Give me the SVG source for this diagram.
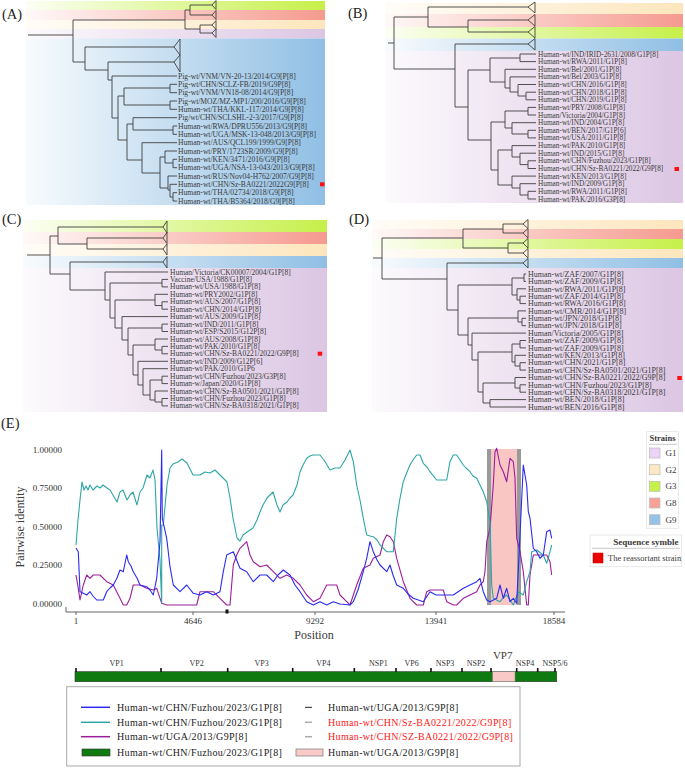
<svg xmlns="http://www.w3.org/2000/svg" width="685" height="768" viewBox="0 0 685 768">
<defs>
<linearGradient id="gG"><stop offset="0" stop-color="#c6f04a" stop-opacity="0.06"/><stop offset="1" stop-color="#c6f04a"/></linearGradient>
<linearGradient id="gR"><stop offset="0" stop-color="#f59a8f" stop-opacity="0.06"/><stop offset="1" stop-color="#f59a8f"/></linearGradient>
<linearGradient id="gY"><stop offset="0" stop-color="#fde6bd" stop-opacity="0.1"/><stop offset="1" stop-color="#fde6bd"/></linearGradient>
<linearGradient id="gP"><stop offset="0" stop-color="#dcc6e3" stop-opacity="0.08"/><stop offset="1" stop-color="#dcc6e3"/></linearGradient>
<linearGradient id="gB"><stop offset="0" stop-color="#90bfe4" stop-opacity="0.06"/><stop offset="1" stop-color="#90bfe4"/></linearGradient>
<style>
.t{font-family:"Liberation Serif","Times New Roman",serif;fill:#3a3a3a}
.br{fill:none;stroke:#404040;stroke-width:0.9}
.tri{fill:none;stroke:#404040;stroke-width:0.9}
.pl{font-family:"Liberation Serif","Times New Roman",serif;font-size:14.5px;fill:#222}
.rs{fill:#ff1010}
.ax{font-family:"Liberation Serif","Times New Roman",serif;font-size:9px;fill:#333}
.cv{fill:none;stroke-width:1.1;stroke-linejoin:round}
.lg{font-family:"Liberation Serif","Times New Roman",serif;font-size:10px;letter-spacing:0.35px;fill:#222}
.gl{font-family:"Liberation Serif","Times New Roman",serif;font-size:8px;fill:#333;text-anchor:middle}
</style>
</defs>
<rect width="685" height="768" fill="#fff"/>

<!-- Panel A -->
<g id="panelA">
<rect x="26" y="1" width="299" height="9" fill="url(#gG)"/>
<rect x="26" y="10" width="299" height="10" fill="url(#gR)"/>
<rect x="26" y="20" width="299" height="9" fill="url(#gY)"/>
<rect x="26" y="29" width="299" height="9.5" fill="url(#gP)"/>
<rect x="26" y="38.5" width="299" height="166.5" fill="url(#gB)"/>
<text class="pl" x="2" y="19">(A)</text>
<path class="br" d="M28,35H73M73,20V62M73,20H185M185,10V29M185,10H190M190,5V15M190,5H212M190,15H212M185,29H200M200,25V33M200,25H212M200,33H212
M73,62H85M85,47V70M85,47H174M85,70H108M108,62V80M108,62H174M108,80H112
M112,76V118M112,76H177M112,118H118M118,96V140M118,96H124M118,140H127M124,88V105M124,88H170M124,105H170
M170,84.3V92.7M170,84.3H177M170,92.7H177M170,101V109.3M170,101H177M170,109.3H177
M127,124V160M127,124H133M127,160H142M133,117.7V130M133,117.7H177M133,130H173M173,126V134.3M173,126H177M173,134.3H177
M142,142.7V173M142,142.7H177M142,173H160M160,157V188M160,157H165M160,188H168
M165,151V163M165,151H177M165,163H173M173,159.3V167.7M173,159.3H177M173,167.7H177
M168,176V190M168,176H177M168,190H170M170,184.3V197M170,184.3H177M170,197H173M173,192.7V201M173,192.7H177M173,201H177"/>
<path class="tri" d="M212,5L216,0.5V9.5ZM212,15L216,10.5V19.5ZM212,25L216,20.5V29.5ZM212,33L216,29V37.5ZM174,47L180,39V55ZM174,62L180,55V72Z"/>
<text class="t" font-size="7.6px"><tspan x="178" y="78.6">Pig-wt/VNM/VN-20-13/2014/G9[P[8]</tspan><tspan x="178" y="86.9">Pig-wt/CHN/SCLZ-FB/2019/G9P[8]</tspan><tspan x="178" y="95.3">Pig-wt/VNM/VN18-08/2014/G9[P[8]</tspan><tspan x="178" y="103.6">Pig-wt/MOZ/MZ-MP1/200/2016/G9[P[8]</tspan><tspan x="178" y="111.9">Human-wt/THA/KKL-117/2014/G9[P[8]</tspan><tspan x="178" y="120.3">Pig/wt/CHN/SCLSHL-2-3/2017/G9[P[8]</tspan><tspan x="178" y="128.6">Human-wt/RWA/DPRU556/2013/G9[P[8]</tspan><tspan x="178" y="136.9">Human-wt/UGA/MSK-13-048/2013/G9[P[8]</tspan><tspan x="178" y="145.3">Human-wt/AUS/QCL199/1999/G9[P[8]</tspan><tspan x="178" y="153.6">Human-wt/PRY/1723SR/2009/G9[P[8]</tspan><tspan x="178" y="161.9">Human-wt/KEN/3471/2016/G9[P[8]</tspan><tspan x="178" y="170.3">Human-wt/UGA/NSA-13-043/2013/G9[P[8]</tspan><tspan x="178" y="178.6">Human-wt/RUS/Nov04-H762/2007/G9[P[8]</tspan><tspan x="178" y="186.9">Human-wt/CHN/Sz-BA0221/2022G9[P[8]</tspan><tspan x="178" y="195.3">Human-wt/THA/02734/2018/G9[P[8]</tspan><tspan x="178" y="203.6">Human-wt/THA/B5364/2018/G9[P[8]</tspan></text>
<rect class="rs" x="320" y="182.3" width="4.5" height="4"/>
</g>

<!-- Panel B -->
<g id="panelB">
<rect x="385" y="3" width="298" height="11" fill="url(#gY)"/>
<rect x="385" y="14" width="298" height="13" fill="url(#gR)"/>
<rect x="385" y="27" width="298" height="11.5" fill="url(#gG)"/>
<rect x="385" y="38.5" width="298" height="12.5" fill="url(#gB)"/>
<rect x="385" y="51" width="298" height="152" fill="url(#gP)"/>
<text class="pl" x="348" y="18">(B)</text>
<path class="br" d="M388,43H394M394,17V69M394,17H428M428,7V27M428,7H528M428,27H468M468,20V32M468,20H528M468,32H528
M394,69H455M455,44V107M455,44H528M455,107H468M468,70V140
M468,70H490M490,58V82M490,58H520M520,54V61.6M520,54H536M520,61.6H536M490,82H505
M505,69.3V88M505,69.3H536M505,88H510M510,76.9V92M510,76.9H536M510,92H518M518,84.5V96M518,84.5H536M518,96H526M526,92.2V99.8M526,92.2H536M526,99.8H536
M468,140H491M491,122V170M491,122H505M491,170H498
M505,111V128M505,111H528M528,107.4V115M528,107.4H536M528,115H536M505,128H512M512,122.7V134M512,122.7H536M512,134H528M528,130.3V137.9M528,130.3H536M528,137.9H536
M498,150V185M498,150H512M498,185H512M512,145.6V157M512,145.6H536M512,157H520M520,153.2V164.6M520,153.2H536M520,164.6H528M528,160.8V168.5M528,160.8H536M528,168.5H536
M512,176.1V188M512,176.1H536M512,188H520M520,183.7V195M520,183.7H536M520,195H528M528,191.3V199M528,191.3H536M528,199H536"/>
<path class="tri" d="M528,7L535,2V13ZM528,20L535,14.5V26ZM528,32L535,26.5V38ZM528,44L535,38.5V50Z"/>
<text class="t" font-size="7.3px"><tspan x="538" y="56.5">Human-wt/IND/IRID-2631/2008/G1P[8]</tspan><tspan x="538" y="64.1">Human-wt/RWA/2011/G1P[8]</tspan><tspan x="538" y="71.8">Human-wt/Bel/2001/G1P[8]</tspan><tspan x="538" y="79.4">Human-wt/Bel/2003/G1P[8]</tspan><tspan x="538" y="87">Human-wt/CHN/2016/G1P[8]</tspan><tspan x="538" y="94.7">Human-wt/CHN/2018/G1P[8]</tspan><tspan x="538" y="102.3">Human-wt/CHN/2019/G1P[8]</tspan><tspan x="538" y="109.9">Human-wt/PRY/2008/G1P[8]</tspan><tspan x="538" y="117.5">Human/Victoria/2004/G1P[8]</tspan><tspan x="538" y="125.2">Human-wt/IND/2004/G1P[8]</tspan><tspan x="538" y="132.8">Human-wt/BEN/2017/G1P[6]</tspan><tspan x="538" y="140.4">Human-wt/USA/2011/G1P[8]</tspan><tspan x="538" y="148.1">Human-wt/PAK/2010/G1P[8]</tspan><tspan x="538" y="155.7">Human-wt/IND/2015/G1P[8]</tspan><tspan x="538" y="163.3">Human-wt/CHN/Fuzhou/2023/G1P[8]</tspan><tspan x="538" y="171">Human-wt/CHN/Sz-BA0221/2022/G9P[8]</tspan><tspan x="538" y="178.6">Human-wt/KEN/2013/G1P[8]</tspan><tspan x="538" y="186.2">Human-wt/IND/2009/G1P[8]</tspan><tspan x="538" y="193.8">Human-wt/RWA/2011/G1P[8]</tspan><tspan x="538" y="201.5">Human-wt/PAK/2016/G3P[8]</tspan></text>
<rect class="rs" x="674.5" y="167" width="4.5" height="4"/>
</g>

<!-- Panel C -->
<g id="panelC">
<rect x="23" y="220" width="304" height="12" fill="url(#gG)"/>
<rect x="23" y="232" width="304" height="12" fill="url(#gR)"/>
<rect x="23" y="244" width="304" height="12" fill="url(#gY)"/>
<rect x="23" y="256" width="304" height="12" fill="url(#gB)"/>
<rect x="23" y="268" width="304" height="144" fill="url(#gP)"/>
<text class="pl" x="2" y="224">(C)</text>
<path class="br" d="M27,255H50M50,236V274M50,236H58M58,227V244M58,227H163M58,244H87M87,238V249M87,238H163M87,249H163
M50,274H70M70,262V290M70,262H163M70,290H105
M105,272V300M105,272H168M105,300H110M110,283V318M110,283H162M162,279.4V286.9M162,279.4H168M162,286.9H168M110,318H115
M115,300V328M115,300H155M115,328H122M155,294.3V305.5M155,294.3H168M155,305.5H162M162,301.8V309.2M162,301.8H168M162,309.2H168
M122,316.6V340M122,316.6H168M122,340H128M128,328V355M128,328H162M162,324.1V331.5M162,324.1H168M162,331.5H168M128,355H133
M133,345V375M133,345H155M133,375H138M155,339V350M155,339H168M155,350H162M162,346.4V353.8M162,346.4H168M162,353.8H168
M138,361.3V385M138,361.3H168M138,385H143M143,368.7V395M143,368.7H168M143,395H150
M150,380V400M150,380H162M162,376.2V383.6M162,376.2H168M162,383.6H168M150,400H155
M155,391V402M155,391H168M155,402H162M162,398.5V405.9M162,398.5H168M162,405.9H168"/>
<path class="tri" d="M163,227L167,221V233ZM163,238L167,232.5V243.5ZM163,249L167,244V255ZM163,262L167,256.5V268Z"/>
<text class="t" font-size="7.5px"><tspan x="170" y="274.5">Human/Victoria/CK00007/2004/G1P[8]</tspan><tspan x="170" y="281.9">Vaccine/USA/1988/G1P[8]</tspan><tspan x="170" y="289.4">Human-wt/USA/1988/G1P[8]</tspan><tspan x="170" y="296.8">Human-wt/PRY2002/G1P[8]</tspan><tspan x="170" y="304.3">Human-wt/AUS/2007/G1P[8]</tspan><tspan x="170" y="311.7">Human-wt/CHN/2014/G1P[8]</tspan><tspan x="170" y="319.1">Human-wt/AUS/2009/G1P[8]</tspan><tspan x="170" y="326.6">Human-wt/IND/2011/G1P[8]</tspan><tspan x="170" y="334">Human-wt/ESP/S2015/G12P[8]</tspan><tspan x="170" y="341.5">Human-wt/AUS/2008/G1P[8]</tspan><tspan x="170" y="348.9">Human-wt/PAK/2010/G1P[8]</tspan><tspan x="170" y="356.3">Human-wt/CHN/Sz-BA0221/2022/G9P[8]</tspan><tspan x="170" y="363.8">Human-wt/IND/2009/G12P[6]</tspan><tspan x="170" y="371.2">Human-wt/PAK/2010/G1P6</tspan><tspan x="170" y="378.7">Human-wt/CHN/Fuzhou/2023/G3P[8]</tspan><tspan x="170" y="386.1">Human-w/Japan/2020/G1P[8]</tspan><tspan x="170" y="393.5">Human-wt/CHN/Sz-BA0501/2021/G1P[8]</tspan><tspan x="170" y="401">Human-wt/CHN/Fuzhou/2023/G1P[8]</tspan><tspan x="170" y="408.4">Human-wt/CHN/Sz-BA0318/2021/G1P[8]</tspan></text>
<rect class="rs" x="317.7" y="351.7" width="4.5" height="4"/>
</g>

<!-- Panel D -->
<g id="panelD">
<rect x="372" y="220" width="311" height="9" fill="url(#gY)"/>
<rect x="372" y="229" width="311" height="10" fill="url(#gR)"/>
<rect x="372" y="239" width="311" height="10" fill="url(#gG)"/>
<rect x="372" y="249" width="311" height="9" fill="url(#gY)"/>
<rect x="372" y="258" width="311" height="10" fill="url(#gB)"/>
<rect x="372" y="268" width="311" height="144" fill="url(#gP)"/>
<text class="pl" x="349" y="224">(D)</text>
<path class="br" d="M373,258H382M382,238V279M382,238H463M463,229V248M463,229H503M503,224V233M503,224H523M503,233H523M463,248H508M508,243V253M508,243H523M508,253H523
M382,279H447M447,263H523M447,263V310M447,310H458
M458,285V335M458,285H512M458,335H468M512,278V295M512,278H524M524,274V281.4M524,274H526M524,281.4H526M512,295H517M517,288.8V300M517,288.8H526M517,300H520M520,296.2V303.6M520,296.2H526M520,303.6H526
M468,318V345M468,318H518M468,345H472M518,310.9V322M518,310.9H526M518,322H522M522,318.3V325.7M522,318.3H526M522,325.7H526
M472,333.1V360M472,333.1H526M472,360H478M478,352V392M478,352H512M478,392H483
M512,344V362M512,344H520M520,340.5V347.9M520,340.5H526M520,347.9H526M512,362H515M515,355.3V366M515,355.3H526M515,366H520M520,362.7V370.1M520,362.7H526M520,370.1H526
M483,383V403M483,383H515M483,403H490M515,377.5V388M515,377.5H526M515,388H520M520,384.8V392.2M520,384.8H526M520,392.2H526M490,399.6V407M490,399.6H526M490,407H526"/>
<path class="tri" d="M523,224L528,219.5V228.5ZM523,233L528,228.5V238ZM523,243L528,238.5V248ZM523,253L528,248.5V258ZM523,263L528,258.5V268Z"/>
<text class="t" font-size="8px"><tspan x="528" y="276.7">Human-wt/ZAF/2007/G1P[8]</tspan><tspan x="528" y="284.1">Human-wt/ZAF/2009/G1P[8]</tspan><tspan x="528" y="291.5">Human-wt/RWA/2011/G1P[8]</tspan><tspan x="528" y="298.9">Human-wt/ZAF/2014/G1P[8]</tspan><tspan x="528" y="306.3">Human-wt/RWA/2016/G1P[8]</tspan><tspan x="528" y="313.7">Human-wt/CMR/2014/G1P[8]</tspan><tspan x="528" y="321">Human-wt/JPN/2018/G1P[8]</tspan><tspan x="528" y="328.4">Human-wt/JPN/2018/G1P[8]</tspan><tspan x="528" y="335.8">Human/Victoria/2005/G1P[8]</tspan><tspan x="528" y="343.2">Human-wt/ZAF/2009/G1P[8]</tspan><tspan x="528" y="350.6">Human-wt/ZAF/2009/G1P[8]</tspan><tspan x="528" y="358">Human-wt/KEN/2013/G1P[8]</tspan><tspan x="528" y="365.4">Human-wt/CHN/2021/G1P[8]</tspan><tspan x="528" y="372.8">Human-wt/CHN/Sz-BA0501/2021/G1P[8]</tspan><tspan x="528" y="380.2">Human-wt/CHN/Sz-BA0221/2022/G9P[8]</tspan><tspan x="528" y="387.6">Human-wt/CHN/Fuzhou/2023/G1P[8]</tspan><tspan x="528" y="394.9">Human-wt/CHN/Sz-BA0318/2021/G1P[8]</tspan><tspan x="528" y="402.3">Human-wt/BEN/2018/G1P[8]</tspan><tspan x="528" y="409.7">Human-wt/BEN/2016/G1P[8]</tspan></text>
<rect class="rs" x="677.3" y="376" width="4.5" height="4"/>
</g>

<!-- Panel E -->
<g id="panelE">
<text class="pl" x="1" y="428" font-size="15px">(E)</text>
<rect x="487" y="449" width="4.5" height="156" fill="#9a9a9a"/>
<rect x="491.5" y="449" width="25.5" height="156" fill="#f9c6c4"/>
<rect x="517" y="449" width="4" height="156" fill="#9a9a9a"/>
<g id="axes">
<path d="M66,612H565M66,607V612M76,612V615M193,612V615M315,612V615M436,612V615M554,612V615" fill="none" stroke="#555" stroke-width="0.9"/>
<rect x="225.5" y="609.5" width="3" height="4" fill="#111"/>
<text class="ax" text-anchor="end"><tspan x="62" y="453">1.00000</tspan><tspan x="62" y="491">0.75000</tspan><tspan x="62" y="530">0.50000</tspan><tspan x="62" y="568">0.25000</tspan><tspan x="62" y="607">0.00000</tspan></text>
<text class="ax" text-anchor="middle"><tspan x="76" y="623.5">1</tspan><tspan x="193" y="623.5">4646</tspan><tspan x="315" y="623.5">9292</tspan><tspan x="436" y="623.5">13941</tspan><tspan x="554" y="623.5">18584</tspan></text>
<text class="t" font-size="12px" x="314" y="638.5" text-anchor="middle" fill="#222">Position</text>
<text class="t" font-size="12px" transform="translate(24,527) rotate(-90)" text-anchor="middle" fill="#222">Pairwise identity</text>
</g>
<g id="curves">
<polyline class="cv" stroke="#9b1f9b" points="76,575 78.3,588.3 80,600 83.3,585 86.7,575 90,578.3 93.3,575 100,575 106.7,581.7 113.3,585 116.7,591.7 120,598.3 123.3,605 126.7,605 130,598.3 133.3,585 140,585 146.7,588.3 153.3,590 156.7,588.3 161.7,603.3 166.7,605 196.7,605 200,591.7 213.3,591.7 220,598.3 226.7,605 230,605 233.3,565 236.7,555 240,548.3 246.7,541.7 250,555 253.3,561.7 260,566.7 266.7,565 273.3,571.7 280,578.3 286.7,575 293.3,578.3 300,585 306.7,595 313.3,601.7 320,598.3 326.7,585 336.7,585 340,595 346.7,601.7 350,605 356.7,585 363.3,568.3 370,565 373.3,558.3 380,555 383.3,541.7 386.7,535 390,536.7 393.3,541.7 396.7,558.3 403.3,581.7 410,598.3 416.7,605 423.3,605 426.7,591.7 430,590 443.3,590 446.7,601.7 453.3,605 456.7,605 463.3,598.3 470,595 476.7,591.7 480,585 483.3,581.7 485,571.7 486.7,541.7 490,528.3 493.3,485 495,451.7 496.7,448.3 500,465 503.3,471.7 506.7,481.7 510,458.3 513.3,461.7 515,478.3 516.7,538.3 520,551.7 523.3,571.7 526.7,605 528.3,605 530,575 533.3,555 543.3,555 546.7,555 550,561.7 551.7,575"/>
<polyline class="cv" stroke="#2ea6a6" points="76,545 78,520 80,500 82,482 84,490 86,486 88,490 90,485 93,490 97,486 100,488 103,485 107,488 110,490 113,495 117,502 120,492 123,490 127,500 130,495 133,492 137,505 140,492 143,488 147,475 150,478 153,470 155,480 157,528 160,560 161.7,603 161.7,525 163.3,525 167,485 170,468 173,464 178,462 182,459 187,463 193,475 200,475 205,472 210,473 215,470 220,475 227,482 230,498 233,518 237,538 240,541 243,535 247,532 250,530 253,528 257,520 260,512 263,505 267,498 270,495 273,492 277,505 280,512 283,505 287,502 290,498 293,495 297,485 300,472 303,465 307,458 310,456 313,455 320,455 324,460 327,465 330,470 335,468 340,468 345,460 350,450 353.3,461.7 356.7,485 360,500 363.3,518.3 366.7,535 370,536 373.3,536.7 377,540 380,545 383,548 386.7,551.7 393.3,551.7 396.7,518.3 400,498.3 403.3,481.7 407,472 410,465 413,460 416.7,455 420,455 423.3,463.3 427,467 430,471.7 436.7,480 446.7,480 450,461.7 453.3,455 456.7,455 460,460 463.3,465 466,468 470,471.7 473,476 476.7,478.3 480,485 483.3,491.7 486.7,501.7 490,521.7 491.7,585 493.3,598.3 500,601.7 503,598 506.7,595 510,600 513.3,605 518.3,591.7 523.3,595 526.7,581.7 530,571.7 531.7,551.7 536.7,550 543.3,555 546.7,563.3 550,551.7 551.7,545"/>
<polyline class="cv" stroke="#2b2bf0" points="76,548 78.3,551.7 80,591.7 83.3,593.3 86.7,595 90,591.7 93,596 96.7,600 103.3,600 106.7,591.7 110,588 113.3,585 117,578 120,570 123.3,571.7 126.7,555 128.3,561.7 131,566 133.3,571.7 137,578 140,585 146.7,586.7 150,590 153.3,595 156.7,578.3 160,541.7 161.7,450 162.3,518.3 166.7,538.3 170,566.7 173.3,585 180,591.7 186.7,585 193.3,593.3 200,595 206.7,591.7 213.3,595 220,591.7 223.3,571.7 226.7,555 233.3,551.7 240,568.3 246.7,571.7 253.3,581.7 260,575 266.7,575 273.3,581.7 278,575 283.3,570 290,575 295,585 300,591.7 306.7,601.7 313.3,605 320,601.7 326.7,605 333.3,601.7 340,604 350,605 353.3,601.7 358,590 363.3,571.7 366.7,558.3 370,541.7 373.3,551.7 377,560 380,565 386.7,571.7 390,565 393,575 396.7,585 403.3,588.3 408,594 413.3,598.3 423.3,601.7 430,591.7 436,595 443.3,595 453.3,595 463.3,588.3 470,585 476.7,581.7 480,578.3 483.3,591.7 486.7,600 490,601.7 496.7,598.3 500,585 503.3,598.3 506.7,588.3 510,601.7 513.3,598.3 516.7,603.3 520,535 523.3,465 526.7,485 528.3,511.7 530,518.3 533.3,548.3 536.7,551.7 540,558.3 543.3,555 546.7,531.7 550,530 551.7,538.3"/>
</g>
</g>

<!-- Strains legend -->
<g id="legendStrains">
<rect x="646.7" y="431.7" width="31.6" height="96.6" fill="#fff" stroke="#e3e3e3" stroke-width="0.8"/>
<text class="t" x="662.5" y="440.5" font-size="8.5px" font-weight="bold" text-anchor="middle" fill="#222">Strains</text>
<path d="M649,444.3H677" stroke="#bbb" stroke-width="0.8"/>
<rect x="649.5" y="448" width="10.5" height="10" fill="#ecd2f6" stroke="#bbb" stroke-width="0.7"/>
<rect x="649.5" y="464.7" width="10.5" height="10" fill="#fce8c2" stroke="#bbb" stroke-width="0.7"/>
<rect x="649.5" y="481.3" width="10.5" height="10" fill="#c6f04a" stroke="#bbb" stroke-width="0.7"/>
<rect x="649.5" y="498" width="10.5" height="10" fill="#f8a197" stroke="#bbb" stroke-width="0.7"/>
<rect x="649.5" y="514.7" width="10.5" height="10" fill="#96c2e6" stroke="#bbb" stroke-width="0.7"/>
<text class="t" font-size="9px" fill="#444"><tspan x="665.5" y="456">G1</tspan><tspan x="665.5" y="472.7">G2</tspan><tspan x="665.5" y="489.3">G3</tspan><tspan x="665.5" y="506">G8</tspan><tspan x="665.5" y="522.7">G9</tspan></text>
</g>
<g id="legendSeq">
<rect x="590" y="535" width="91.7" height="31.7" fill="#fff" stroke="#e3e3e3" stroke-width="0.8"/>
<text class="t" x="678.5" y="545" font-size="9px" font-weight="bold" text-anchor="end" fill="#222">Sequence symble</text>
<path d="M592,548.3H680" stroke="#bbb" stroke-width="0.8"/>
<rect x="593" y="553" width="10" height="10" fill="#ee0000" stroke="#b00" stroke-width="0.5"/>
<text class="t" x="608" y="561" font-size="8.5px" fill="#333">The reassortant strain</text>
</g>

<!-- Genome bar -->
<g id="genome">
<rect x="75" y="671.7" width="481.7" height="10" fill="#0f7a10" stroke="#2a3a2a" stroke-width="0.6"/>
<rect x="492.7" y="671.7" width="22.3" height="10" fill="#f9c9c8" stroke="#888" stroke-width="0.6"/>
<path d="M76,668V672M161,668V672M227.7,668V672M292.7,668V672M354.3,668V672M396,668V672M431,668V672M462,668V672M491,668V672M516.7,668V672M537.7,668V672M555,668V672" stroke="#111" stroke-width="1.6"/>
<text class="gl"><tspan x="116.7" y="666">VP1</tspan><tspan x="196.7" y="666">VP2</tspan><tspan x="261.7" y="666">VP3</tspan><tspan x="323.3" y="666">VP4</tspan><tspan x="378.3" y="666">NSP1</tspan><tspan x="411.7" y="666">VP6</tspan><tspan x="445" y="666">NSP3</tspan><tspan x="476" y="666">NSP2</tspan><tspan x="525" y="666">NSP4</tspan><tspan x="555" y="666">NSP5/6</tspan></text>
<text class="t" x="502.7" y="659" font-size="11px" text-anchor="middle" fill="#ff2222">VP7</text>
</g>

<!-- Bottom legend -->
<g id="bottomLegend">
<rect x="66.7" y="686.7" width="453.3" height="79.3" fill="#fff" stroke="#aaa" stroke-width="1"/>
<path d="M81,707.3H110" stroke="#2b2bf0" stroke-width="1.5"/>
<path d="M81,722.3H110" stroke="#2ea6a6" stroke-width="1.5"/>
<path d="M81,736.7H110" stroke="#9b1f9b" stroke-width="1.5"/>
<rect x="82" y="749" width="28" height="7" fill="#0f7a10" stroke="#333" stroke-width="0.6"/>
<path d="M305,707.3H312" stroke="#222" stroke-width="1"/>
<path d="M305,722.3H312" stroke="#aaa" stroke-width="1.5"/>
<path d="M305,736.7H312" stroke="#aaa" stroke-width="1.5"/>
<rect x="296" y="749" width="27" height="7" fill="#f9c9c8" stroke="#888" stroke-width="0.8"/>
<text class="lg"><tspan x="117" y="710.8">Human-wt/CHN/Fuzhou/2023/G1P[8]</tspan><tspan x="117" y="725.8">Human-wt/CHN/Fuzhou/2023/G1P[8]</tspan><tspan x="117" y="740.2">Human-wt/UGA/2013/G9P[8]</tspan><tspan x="117" y="755.8">Human-wt/CHN/Fuzhou/2023/G1P[8]</tspan><tspan x="328" y="710.8">Human-wt/UGA/2013/G9P[8]</tspan><tspan x="328" y="755.8">Human-wt/UGA/2013/G9P[8]</tspan></text>
<text class="lg" fill="#ff2020" style="fill:#ff2020"><tspan x="328" y="725.8">Human-wt/CHN/Sz-BA0221/2022/G9P[8]</tspan><tspan x="328" y="740.2">Human-wt/CHN/SZ-BA0221/2022/G9P[8]</tspan></text>
</g>
</svg>
